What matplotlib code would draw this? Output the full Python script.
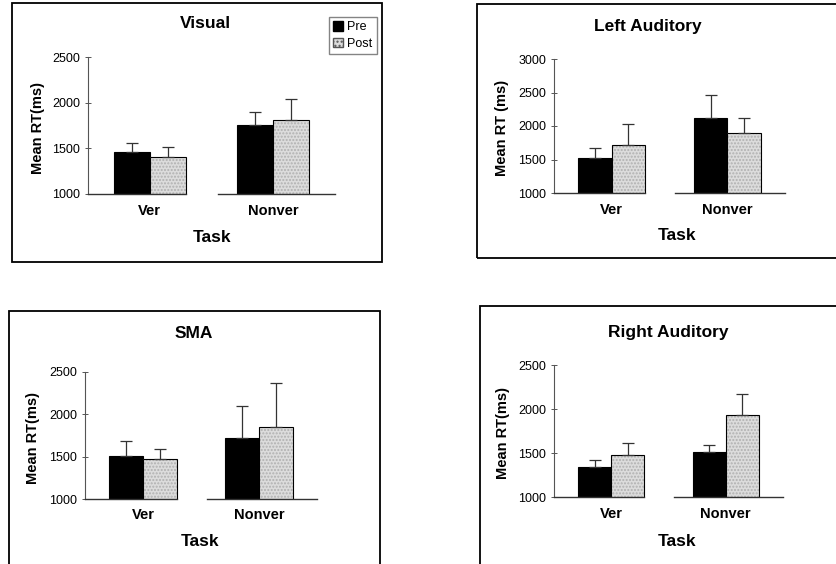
import matplotlib
matplotlib.use("Agg")
import matplotlib.pyplot as plt
from matplotlib.patches import Rectangle, Patch
import numpy as np

plt.rcParams['font.family'] = ['Liberation Sans', 'DejaVu Sans']

# data (mean RT in ms, upper error bar length)
tasks = ["Ver", "Nonver"]

visual_pre = [1465, 1757]
visual_pre_err = [98, 136]
visual_post = [1410, 1805]
visual_post_err = [110, 238]

left_pre = [1515, 2115]
left_pre_err = [160, 350]
left_post = [1715, 1890]
left_post_err = [315, 235]

sma_pre = [1502, 1726]
sma_pre_err = [185, 375]
sma_post = [1470, 1853]
sma_post_err = [118, 517]

right_pre = [1342, 1516]
right_pre_err = [83, 73]
right_post = [1480, 1927]
right_post_err = [130, 239]

W, H = 837, 564
fig = plt.figure(figsize=(W / 100, H / 100), dpi=100)

def fx(px):
  return px / W

def fy(py):
  return 1 - py / H

# panel layout in pixels: axes (x0, top, x1, bottom), frame (x0, top, x1, bottom)
panels = [
  dict(title="Visual", ylabel="Mean RT(ms)", pre=visual_pre, pre_err=visual_pre_err,
       post=visual_post, post_err=visual_post_err, ymax=2500,
       ax=(88, 57, 335, 194), frame=(12, 3, 382, 262), title_xy=(205, 24), ylab_x=38,
       tick_y=211, task_xy=(212, 237), legend=True),
  dict(title="Left Auditory", ylabel="Mean RT (ms)", pre=left_pre, pre_err=left_pre_err,
       post=left_post, post_err=left_post_err, ymax=3000,
       ax=(554, 59, 785, 193), frame=(477, 4, 845, 258), title_xy=(648, 27), ylab_x=502,
       tick_y=210, task_xy=(677, 235), legend=False),
  dict(title="SMA", ylabel="Mean RT(ms)", pre=sma_pre, pre_err=sma_pre_err,
       post=sma_post, post_err=sma_post_err, ymax=2500,
       ax=(85, 372, 317, 499), frame=(9, 311, 380, 575), title_xy=(194, 333), ylab_x=33,
       tick_y=515, task_xy=(200, 542), legend=False),
  dict(title="Right Auditory", ylabel="Mean RT(ms)", pre=right_pre, pre_err=right_pre_err,
       post=right_post, post_err=right_post_err, ymax=2500,
       ax=(554, 365, 783, 497), frame=(480, 306, 845, 575), title_xy=(668, 332), ylab_x=503,
       tick_y=514, task_xy=(677, 541), legend=False),
]

width = 0.29
x = np.arange(len(tasks))
post_face = '#dcdcdc'
post_hatch = '#b0b0b0'

for p in panels:
  x0, top, x1, bot = p['ax']
  ax = fig.add_axes([fx(x0), fy(bot), fx(x1) - fx(x0), fy(top) - fy(bot)])
  ax.set_xlim(-0.5, 1.5)
  ax.set_ylim(1000, p['ymax'])
  ax.set_yticks(np.arange(1000, p['ymax'] + 1, 500))

  ax.bar(x - width / 2, p['pre'], width, color='black', edgecolor='black',
         linewidth=0.8, zorder=2)
  ax.bar(x + width / 2, p['post'], width, color=post_face, edgecolor=post_hatch,
         hatch='.....', linewidth=0, zorder=2)
  ax.bar(x + width / 2, p['post'], width, fill=False, edgecolor='black',
         linewidth=0.8, zorder=3)
  ax.errorbar(x - width / 2, p['pre'], yerr=[np.zeros(2), p['pre_err']], fmt='none',
              ecolor='#333333', elinewidth=0.9, capsize=4, capthick=0.9, zorder=4)
  ax.errorbar(x + width / 2, p['post'], yerr=[np.zeros(2), p['post_err']], fmt='none',
              ecolor='#333333', elinewidth=0.9, capsize=4, capthick=0.9, zorder=4)

  for s in ['top', 'right', 'bottom']:
    ax.spines[s].set_visible(False)
  ax.spines['left'].set_color('#555555')
  ax.spines['left'].set_linewidth(0.8)
  # baseline is broken between the two groups in the original
  ax.plot([-0.5, x[0] + width], [1000, 1000], color='#333333', lw=1.0, clip_on=False, zorder=5)
  ax.plot([0.55, 1.5], [1000, 1000], color='#333333', lw=1.0, clip_on=False, zorder=5)

  ax.set_xticks([])
  ax.tick_params(axis='y', direction='inout', length=5, width=0.7, color='#555555',
                 labelsize=9, pad=3)
  ax.patch.set_alpha(0)

  for xi, t in zip(x, tasks):
    fig.text(fx(x0 + (xi + 0.5) / 2 * (x1 - x0)), fy(p['tick_y']), t, ha='center',
             va='center', fontsize=10.5, fontweight='bold')
  tx, ty = p['task_xy']
  fig.text(fx(tx), fy(ty), "Task", ha='center', va='center',
           fontsize=12.5, fontweight='bold')
  tx, ty = p['title_xy']
  fig.text(fx(tx), fy(ty), p['title'], ha='center', va='center',
           fontsize=12.5, fontweight='bold')
  fig.text(fx(p['ylab_x']), fy((top + bot) / 2 + 2), p['ylabel'], rotation=90, ha='center',
           va='center', fontsize=10.5, fontweight='bold')

  f0, ft, f1, fb = p['frame']
  fig.patches.append(Rectangle((fx(f0), fy(fb)), fx(f1) - fx(f0), fy(ft) - fy(fb),
                               transform=fig.transFigure, fill=False, edgecolor='black',
                               linewidth=1.3, zorder=10))

  if p['legend']:
    handles = [Patch(facecolor='black', edgecolor='black', label='Pre'),
               Patch(facecolor=post_face, edgecolor='#555555', hatch='....', label='Post')]
    fig.legend(handles=handles, loc='upper left',
               bbox_to_anchor=(fx(329), fy(17)), frameon=True, fancybox=False,
               edgecolor='#666666', fontsize=9, handlelength=0.8, handleheight=0.8,
               handletextpad=0.3, borderpad=0.35, labelspacing=0.35, borderaxespad=0)

fig.savefig("out.png", dpi=100)
